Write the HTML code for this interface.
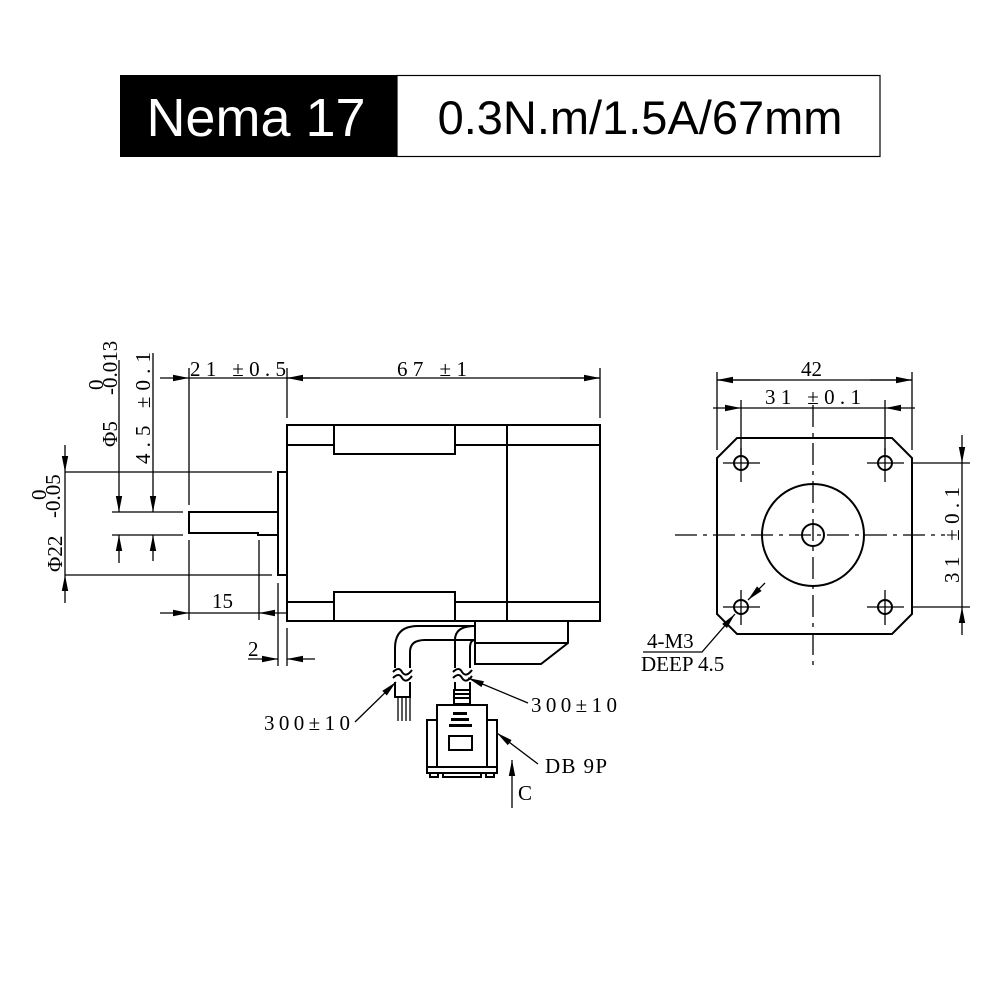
<!DOCTYPE html>
<html><head><meta charset="utf-8"><style>
html,body{margin:0;padding:0;background:#fff;}
svg{display:block;}
.t{font-family:"Liberation Serif",serif;font-size:21px;fill:#000;}
</style></head><body>
<svg width="1000" height="1000" viewBox="0 0 1000 1000" xmlns="http://www.w3.org/2000/svg">
<defs>
<marker id="a" viewBox="0 0 16 8" refX="16" refY="4" markerWidth="16" markerHeight="8" markerUnits="userSpaceOnUse" orient="auto"><path d="M0,0.8 L16,4 L0,7.2 z" fill="#000"/></marker>
</defs>
<rect x="120" y="75" width="277" height="82" fill="#000"/>
<rect x="397" y="75.5" width="483" height="81" fill="#fff" stroke="#000" stroke-width="1.2"/>
<text x="256" y="136" text-anchor="middle" font-family="Liberation Sans,sans-serif" font-size="54" fill="#fff">Nema 17</text>
<text x="640" y="134" text-anchor="middle" font-family="Liberation Sans,sans-serif" font-size="47" fill="#000">0.3N.m/1.5A/67mm</text>

<g stroke="#000" stroke-width="2" fill="none">
<rect x="287" y="425" width="313" height="196"/>
<line x1="287" y1="445" x2="600" y2="445"/>
<line x1="287" y1="602" x2="600" y2="602"/>
<rect x="334" y="425" width="121" height="29" fill="#fff"/>
<rect x="334" y="592" width="121" height="29" fill="#fff"/>
<line x1="507" y1="425" x2="507" y2="621"/>
<rect x="278" y="472" width="9" height="103"/>
<polyline points="278,512 189,512 189,533 258,533 258,535 278,535"/>
<polyline points="475,621 475,664 541,664 568,643 568,621"/>
<line x1="475" y1="643" x2="568" y2="643"/>
</g>
<g stroke="#000" stroke-width="1.3" fill="none">
<line x1="189" y1="378" x2="600" y2="378"/>
<line x1="189" y1="368" x2="189" y2="505"/>
<line x1="287" y1="368" x2="287" y2="418"/>
<line x1="600" y1="368" x2="600" y2="418"/>
<line x1="160" y1="378" x2="189" y2="378" marker-end="url(#a)"/>
<line x1="320" y1="378" x2="287" y2="378" marker-end="url(#a)"/>
<line x1="560" y1="378" x2="600" y2="378" marker-end="url(#a)"/>
<line x1="65" y1="472" x2="272" y2="472"/>
<line x1="65" y1="575" x2="272" y2="575"/>
<line x1="65" y1="445" x2="65" y2="472" marker-end="url(#a)"/>
<line x1="65" y1="603" x2="65" y2="575" marker-end="url(#a)"/>
<line x1="65" y1="472" x2="65" y2="575"/>
<line x1="112" y1="512" x2="183" y2="512"/>
<line x1="112" y1="535" x2="183" y2="535"/>
<line x1="119" y1="360" x2="119" y2="512" marker-end="url(#a)"/>
<line x1="119" y1="563" x2="119" y2="535" marker-end="url(#a)"/>
<line x1="153" y1="353" x2="153" y2="512" marker-end="url(#a)"/>
<line x1="153" y1="561" x2="153" y2="535" marker-end="url(#a)"/>
<line x1="189" y1="540" x2="189" y2="620"/>
<line x1="259" y1="540" x2="259" y2="620"/>
<line x1="160" y1="613" x2="189" y2="613" marker-end="url(#a)"/>
<line x1="189" y1="613" x2="259" y2="613"/>
<line x1="287" y1="613" x2="259" y2="613" marker-end="url(#a)"/>
<line x1="278" y1="583" x2="278" y2="666"/>
<line x1="287" y1="628" x2="287" y2="666"/>
<line x1="248" y1="659" x2="278" y2="659" marker-end="url(#a)"/>
<line x1="315" y1="659" x2="287" y2="659" marker-end="url(#a)"/>
</g>
<g stroke="#000" stroke-width="2" fill="none">
<path d="M395,668 V648 Q395,626 418,626 H475"/>
<path d="M410,668 V652 Q410,640 425,640 H475"/>
<path d="M455,668 V640 Q455,626 475,626"/>
<path d="M470,668 V648 Q470,640 475,640"/>
<path d="M393,672 q6,-6 9,0 q4,6 10,-2"/>
<path d="M393,678 q6,-6 9,0 q4,6 10,-2"/>
<path d="M453,672 q6,-6 9,0 q4,6 10,-2"/>
<path d="M453,678 q6,-6 9,0 q4,6 10,-2"/>
<path d="M395,682 V697 H410 V682"/>
<path d="M455,682 V690 H470 V682"/>
</g>
<g stroke="#000" stroke-width="1.3">
<line x1="398" y1="697" x2="398" y2="721"/><line x1="402" y1="697" x2="402" y2="721"/><line x1="406" y1="697" x2="406" y2="721"/><line x1="410" y1="697" x2="410" y2="721"/>
</g>
<g stroke="#000" stroke-width="2" fill="none">
<rect x="454" y="690" width="16" height="14"/>
<line x1="454" y1="694" x2="470" y2="694"/><line x1="454" y1="698" x2="470" y2="698"/>
<rect x="437" y="705" width="50" height="62"/>
<rect x="427" y="720" width="10" height="47"/>
<rect x="487" y="720" width="10" height="47"/>
<rect x="427" y="767" width="70" height="6"/>
<rect x="430" y="773" width="8" height="4"/>
<rect x="486" y="773" width="8" height="4"/>
<rect x="443" y="773" width="38" height="4"/>
<rect x="449" y="736" width="23" height="14"/>
</g>
<g fill="#000"><rect x="453" y="712" width="14" height="3"/><rect x="451" y="718" width="18" height="3"/><rect x="449" y="724" width="23" height="3"/></g>
<g stroke="#000" stroke-width="1.3" fill="none">
<line x1="355" y1="722" x2="396" y2="682" marker-end="url(#a)"/>
<line x1="528" y1="703" x2="468" y2="678" marker-end="url(#a)"/>
<line x1="538" y1="764" x2="497" y2="733" marker-end="url(#a)"/>
<line x1="512" y1="808" x2="512" y2="760" marker-end="url(#a)"/>
</g>
<g stroke="#000" stroke-width="2" fill="none">
<polygon points="737,438 892,438 912,458 912,614 892,634 737,634 717,614 717,458"/>
<circle cx="813" cy="535" r="51"/>
<circle cx="813" cy="535" r="11"/>
<circle cx="741" cy="463" r="7"/><circle cx="885" cy="463" r="7"/>
<circle cx="741" cy="607" r="7"/><circle cx="885" cy="607" r="7"/>
</g>
<g stroke="#000" stroke-width="1.3" fill="none">
<line x1="675" y1="535" x2="945" y2="535" stroke-dasharray="22,6,4,6"/>
<line x1="813" y1="405" x2="813" y2="668" stroke-dasharray="22,6,4,6"/>
<line x1="723" y1="463" x2="760" y2="463"/><line x1="741" y1="448" x2="741" y2="482"/>
<line x1="867" y1="463" x2="904" y2="463"/><line x1="885" y1="448" x2="885" y2="482"/>
<line x1="723" y1="607" x2="760" y2="607"/><line x1="741" y1="590" x2="741" y2="625"/>
<line x1="867" y1="607" x2="904" y2="607"/><line x1="885" y1="590" x2="885" y2="625"/>
<line x1="717" y1="372" x2="717" y2="450"/>
<line x1="912" y1="372" x2="912" y2="450"/>
<line x1="741" y1="400" x2="741" y2="455"/>
<line x1="885" y1="400" x2="885" y2="455"/>
<line x1="760" y1="380" x2="717" y2="380" marker-end="url(#a)"/>
<line x1="870" y1="380" x2="912" y2="380" marker-end="url(#a)"/>
<line x1="717" y1="380" x2="912" y2="380"/>
<line x1="713" y1="408" x2="741" y2="408" marker-end="url(#a)"/>
<line x1="915" y1="408" x2="885" y2="408" marker-end="url(#a)"/>
<line x1="741" y1="408" x2="885" y2="408"/>
<line x1="912" y1="463" x2="970" y2="463"/>
<line x1="912" y1="607" x2="970" y2="607"/>
<line x1="962" y1="435" x2="962" y2="463" marker-end="url(#a)"/>
<line x1="962" y1="635" x2="962" y2="607" marker-end="url(#a)"/>
<line x1="962" y1="463" x2="962" y2="607"/>
<line x1="765" y1="583" x2="748" y2="600" marker-end="url(#a)"/>
<polyline points="643,652 702,652 735,614" marker-end="url(#a)"/>
</g>
<text class="t" x="190" y="376" textLength="96">21 ±0.5</text>
<text class="t" x="397" y="376" textLength="70">67 ±1</text>
<text class="t" x="212" y="608">15</text>
<text class="t" x="248" y="656">2</text>
<text class="t" x="264" y="730" textLength="86">300±10</text>
<text class="t" x="531" y="712" textLength="86">300±10</text>
<text class="t" x="545" y="773" textLength="62">DB 9P</text>
<text class="t" x="518" y="800" font-size="17">C</text>
<text class="t" x="801" y="376">42</text>
<text class="t" x="765" y="404" textLength="96">31 ±0.1</text>
<text class="t" x="647" y="648">4-M3</text>
<text class="t" x="641" y="671" font-size="13">DEEP 4.5</text>
<text class="t" transform="translate(959,583) rotate(-90)" textLength="96">31 ±0.1</text>
<text class="t" transform="translate(150,464) rotate(-90)" textLength="112">4.5 ±0.1</text>
<text class="t" transform="translate(117,447) rotate(-90)">Φ5</text>
<text class="t" font-size="12" transform="translate(103,390) rotate(-90)">0</text>
<text class="t" font-size="12" transform="translate(117,395) rotate(-90)">-0.013</text>
<text class="t" transform="translate(62,572) rotate(-90)">Φ22</text>
<text class="t" font-size="12" transform="translate(46,500) rotate(-90)">0</text>
<text class="t" font-size="12" transform="translate(60,518) rotate(-90)">-0.05</text>
</svg>
</body></html>
